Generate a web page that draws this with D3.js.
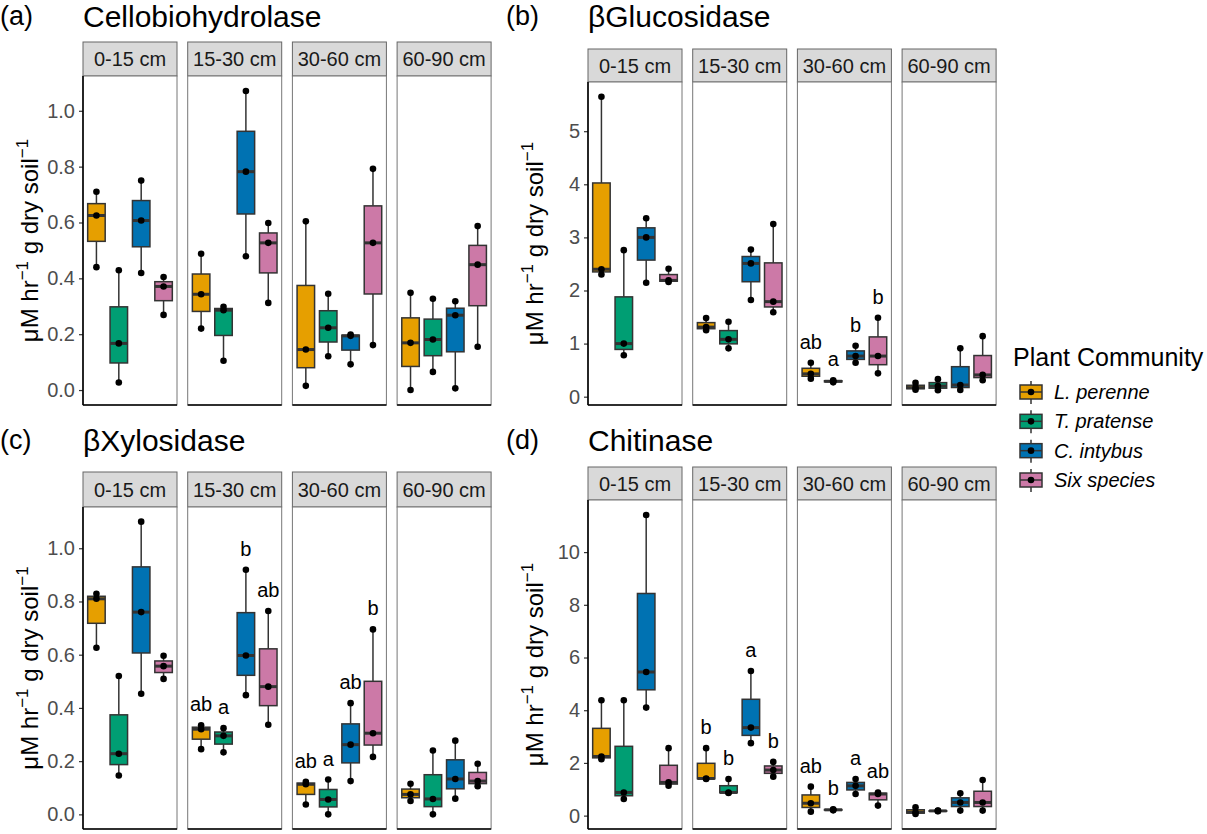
<!DOCTYPE html>
<html>
<head>
<meta charset="utf-8">
<script src="https://cdn.jsdelivr.net/npm/d3@7"></script>
<style>
  body { margin: 0; background: #fff; }
  svg { font-family: "Liberation Sans", Arial, sans-serif; }
</style>
</head>
<body>
<svg id="chart" width="1207" height="834"></svg>
<script>
const species = ["L. perenne", "T. pratense", "C. intybus", "Six species"];
const depths = ["0-15 cm", "15-30 cm", "30-60 cm", "60-90 cm"];
const colors = ["#E69F00", "#009E73", "#0072B2", "#CC79A7"];

// three replicates per box, [depth][species]
const cellobiohydrolase = [
  [[0.44, 0.625, 0.71], [0.027, 0.167, 0.429], [0.419, 0.607, 0.75], [0.269, 0.371, 0.405]],
  [[0.22, 0.343, 0.488], [0.105, 0.286, 0.298], [0.479, 0.782, 1.071], [0.312, 0.527, 0.598]],
  [[0.015, 0.145, 0.604], [0.121, 0.223, 0.345], [0.092, 0.194, 0.199], [0.161, 0.527, 0.792]],
  [[0.0, 0.169, 0.348], [0.065, 0.181, 0.327], [0.006, 0.268, 0.318], [0.155, 0.449, 0.587]]
];
const glucosidase = [
  [[2.3, 2.4, 5.65], [0.78, 1.0, 2.76], [2.145, 3.0, 3.36], [2.16, 2.19, 2.41]],
  [[1.25, 1.31, 1.48], [0.91, 1.08, 1.41], [1.82, 2.51, 2.77], [1.59, 1.79, 3.25]],
  [[0.34, 0.43, 0.64], [0.27, 0.29, 0.31], [0.64, 0.765, 0.96], [0.44, 0.765, 1.487]],
  [[0.13, 0.17, 0.26], [0.12, 0.2, 0.33], [0.125, 0.22, 0.91], [0.31, 0.41, 1.14]]
];
const xylosidase = [
  [[0.626, 0.81, 0.829], [0.146, 0.228, 0.52], [0.453, 0.76, 1.10], [0.509, 0.557, 0.596]],
  [[0.245, 0.32, 0.335], [0.233, 0.295, 0.324], [0.448, 0.597, 0.919], [0.337, 0.48, 0.764]],
  [[0.037, 0.113, 0.122], [0.0, 0.056, 0.131], [0.125, 0.262, 0.418], [0.216, 0.305, 0.695]],
  [[0.05, 0.075, 0.115], [0.0, 0.058, 0.24], [0.059, 0.133, 0.277], [0.106, 0.125, 0.19]]
];
const chitinase = [
  [[2.14, 2.245, 4.38], [0.63, 0.88, 4.38], [4.10, 5.45, 11.41], [1.135, 1.26, 2.56]],
  [[1.39, 1.41, 2.56], [0.86, 0.88, 1.39], [2.75, 3.34, 5.49], [1.48, 1.73, 2.04]],
  [[0.15, 0.47, 1.1], [0.2, 0.22, 0.24], [0.82, 1.13, 1.39], [0.38, 0.82, 0.88]],
  [[0.06, 0.13, 0.315], [0.17, 0.18, 0.19], [0.19, 0.5, 0.85], [0.19, 0.5, 1.35]]
];

// significance letters, [depth][species]
const noLetters = [["", "", "", ""], ["", "", "", ""], ["", "", "", ""], ["", "", "", ""]];
const glucosidaseLetters = [["", "", "", ""], ["", "", "", ""], ["ab", "a", "b", "b"], ["", "", "", ""]];
const xylosidaseLetters = [["", "", "", ""], ["ab", "a", "b", "ab"], ["ab", "a", "ab", "b"], ["", "", "", ""]];
const chitinaseLetters = [["", "", "", ""], ["b", "b", "a", "b"], ["ab", "b", "a", "ab"], ["", "", "", ""]];

const ticksA = [0, 0.2, 0.4, 0.6, 0.8, 1.0];
const ticksB = [0, 1, 2, 3, 4, 5];
const ticksC = [0, 0.2, 0.4, 0.6, 0.8, 1.0];
const ticksD = [0, 2, 4, 6, 8, 10];

const panels = [
  { tag: "(a)", title: "Cellobiohydrolase", values: cellobiohydrolase, letters: noLetters, ticks: ticksA, fmt: d3.format(".1f"),
    tagX: 0, x0: 83, titleY: 27, stripTop: 42, panelTop: 76, bottom: 405 },
  { tag: "(b)", title: "βGlucosidase", values: glucosidase, letters: glucosidaseLetters, ticks: ticksB, fmt: d3.format("d"),
    tagX: 506, x0: 588, titleY: 27, stripTop: 49, panelTop: 82, bottom: 405 },
  { tag: "(c)", title: "βXylosidase", values: xylosidase, letters: xylosidaseLetters, ticks: ticksC, fmt: d3.format(".1f"),
    tagX: 0, x0: 83, titleY: 451, stripTop: 472, panelTop: 507, bottom: 829 },
  { tag: "(d)", title: "Chitinase", values: chitinase, letters: chitinaseLetters, ticks: ticksD, fmt: d3.format("d"),
    tagX: 506, x0: 588, titleY: 451, stripTop: 467, panelTop: 500, bottom: 829 }
];

const svg = d3.select("#chart");
const facetW = 94, facetGap = 10.7;
const boxW = 17.5;

function drawPanel(p) {
  const g = svg.append("g");

  const all = p.values.flat(2);
  const [lo, hi] = d3.extent(all);
  const pad = (hi - lo) * 0.05;
  const y = d3.scaleLinear().domain([lo - pad, hi + pad]).range([p.bottom, p.panelTop]);

  const fx = d3.scaleBand()
    .domain(depths)
    .range([p.x0, p.x0 + 4 * facetW + 3 * facetGap])
    .paddingInner(facetGap / (facetW + facetGap));
  const x = d3.scalePoint().domain(species).range([0, fx.bandwidth()]).padding(0.6);

  // tag + title
  g.append("text").attr("x", p.tagX).attr("y", p.titleY - 2)
    .attr("font-size", 27).attr("fill", "#000").text(p.tag);
  g.append("text").attr("x", p.x0).attr("y", p.titleY)
    .attr("font-size", 30).attr("fill", "#000").text(p.title);

  // y title
  const yt = g.append("text")
    .attr("transform", `translate(${p.x0 - 45},${(p.panelTop + p.bottom) / 2}) rotate(-90)`)
    .attr("text-anchor", "middle").attr("font-size", 24).attr("fill", "#000");
  yt.append("tspan").text("μM hr");
  yt.append("tspan").attr("dy", -10).attr("font-size", 17).text("−1");
  yt.append("tspan").attr("dy", 10).text(" g dry soil");
  yt.append("tspan").attr("dy", -10).attr("font-size", 17).text("−1");

  depths.forEach((depth, di) => {
    const fg = g.append("g").attr("transform", `translate(${fx(depth)},0)`);
    const w = fx.bandwidth();

    // strip
    fg.append("rect").attr("x", 0).attr("y", p.stripTop).attr("width", w)
      .attr("height", p.panelTop - p.stripTop)
      .attr("fill", "#D9D9D9").attr("stroke", "#666").attr("stroke-width", 1);
    fg.append("text").attr("x", w / 2).attr("y", (p.stripTop + p.panelTop) / 2)
      .attr("text-anchor", "middle").attr("dominant-baseline", "central")
      .attr("font-size", 20).attr("fill", "#1A1A1A").text(depth);

    // panel border
    fg.append("rect").attr("x", 0).attr("y", p.panelTop).attr("width", w)
      .attr("height", p.bottom - p.panelTop)
      .attr("fill", "#fff").attr("stroke", "#777").attr("stroke-width", 1);

    // boxes
    species.forEach((sp, si) => {
      const vals = p.values[di][si].slice().sort(d3.ascending);
      const q1 = d3.quantile(vals, 0.25), med = d3.quantile(vals, 0.5), q3 = d3.quantile(vals, 0.75);
      const cx = x(sp);
      const bg = fg.append("g");
      bg.append("line").attr("x1", cx).attr("x2", cx).attr("y1", y(vals[2])).attr("y2", y(q3))
        .attr("stroke", "#333").attr("stroke-width", 1.5);
      bg.append("line").attr("x1", cx).attr("x2", cx).attr("y1", y(vals[0])).attr("y2", y(q1))
        .attr("stroke", "#333").attr("stroke-width", 1.5);
      bg.append("rect").attr("x", cx - boxW / 2).attr("y", y(q3)).attr("width", boxW)
        .attr("height", Math.max(0.5, y(q1) - y(q3)))
        .attr("fill", colors[si]).attr("stroke", "#333").attr("stroke-width", 1.5);
      bg.append("line").attr("x1", cx - boxW / 2).attr("x2", cx + boxW / 2).attr("y1", y(med)).attr("y2", y(med))
        .attr("stroke", "#333").attr("stroke-width", 3);
      bg.selectAll("circle").data(vals).join("circle")
        .attr("cx", cx).attr("cy", d => y(d)).attr("r", 3.3).attr("fill", "#000");

      const lab = p.letters[di][si];
      if (lab) {
        bg.append("text").attr("x", cx).attr("y", y(vals[2]) - 14)
          .attr("text-anchor", "middle").attr("font-size", 20).attr("fill", "#000").text(lab);
      }
    });

    // axis line at bottom
    fg.append("line").attr("x1", 0).attr("x2", w).attr("y1", p.bottom).attr("y2", p.bottom)
      .attr("stroke", "#000").attr("stroke-width", 1.6);
  });

  // left axis
  const ax = g.append("g").attr("transform", `translate(${p.x0},0)`)
    .call(d3.axisLeft(y).tickValues(p.ticks).tickFormat(p.fmt).tickSize(4).tickPadding(4));
  ax.select(".domain").remove();
  ax.selectAll(".tick line").attr("stroke", "#333").attr("stroke-width", 1.2);
  ax.selectAll(".tick text").attr("fill", "#4D4D4D").attr("font-size", 20)
    .attr("font-family", "Liberation Sans, Arial, sans-serif");
  g.append("line").attr("x1", p.x0).attr("x2", p.x0).attr("y1", p.panelTop).attr("y2", p.bottom)
    .attr("stroke", "#000").attr("stroke-width", 1.6);
}

panels.forEach(drawPanel);

// legend
const leg = svg.append("g").attr("transform", "translate(1013,0)");
leg.append("text").attr("x", 0).attr("y", 366).attr("font-size", 25).attr("fill", "#000").text("Plant Community");
const keyY = d3.scalePoint().domain(species).range([392, 480]);
species.forEach((sp, i) => {
  const cy = keyY(sp), cx = 18;
  const k = leg.append("g");
  k.append("line").attr("x1", cx).attr("x2", cx).attr("y1", cy - 11).attr("y2", cy + 12)
    .attr("stroke", "#333").attr("stroke-width", 1.5);
  k.append("rect").attr("x", cx - 11).attr("y", cy - 7).attr("width", 22).attr("height", 14)
    .attr("fill", colors[i]).attr("stroke", "#333").attr("stroke-width", 1.5);
  k.append("line").attr("x1", cx - 11).attr("x2", cx + 11).attr("y1", cy).attr("y2", cy)
    .attr("stroke", "#333").attr("stroke-width", 1.5);
  k.append("circle").attr("cx", cx).attr("cy", cy).attr("r", 3.3).attr("fill", "#000");
  k.append("text").attr("x", 41).attr("y", cy).attr("dominant-baseline", "central")
    .attr("font-size", 20).attr("font-style", "italic").attr("fill", "#000").text(sp);
});
</script>
</body>
</html>
